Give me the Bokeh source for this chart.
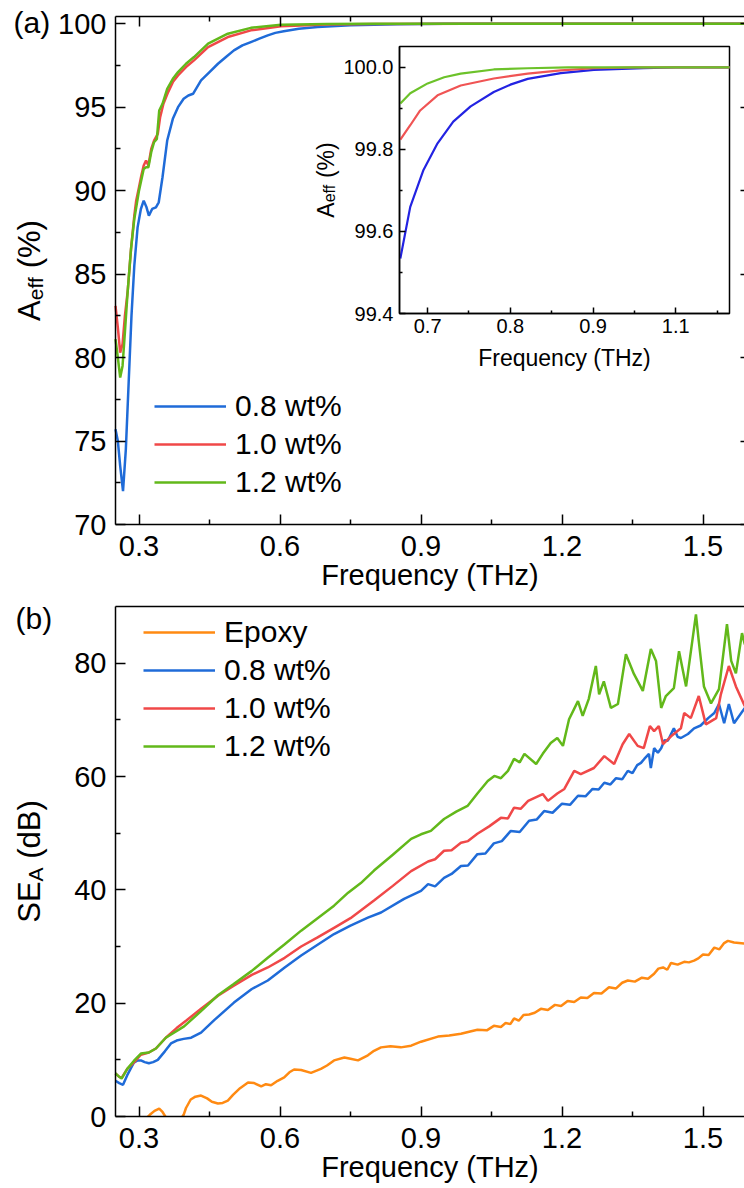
import math
from bokeh.plotting import figure
from bokeh.models import (Range1d, LinearAxis, FixedTicker, PrintfTickFormatter,
                          Legend, LegendItem, Label)
from bokeh.layouts import column
from bokeh.embed import file_html
from bokeh.resources import INLINE

FONT = "Liberation Sans"

# ---------------- data ----------------
freq_major = [0.3, 0.6, 0.9, 1.2, 1.5]
freq_minor = [0.45, 0.75, 1.05, 1.35]
a_y_major = [70, 75, 80, 85, 90, 95, 100]
a_y_minor = [72.5, 77.5, 82.5, 87.5, 92.5, 97.5]
b_y_major = [0, 20, 40, 60, 80]
b_y_minor = [10, 30, 50, 70]
in_x_major = [0.7, 0.8, 0.9, 1.0]
in_x_minor = [0.75, 0.85, 0.95, 1.05]
in_y_major = [99.4, 99.6, 99.8, 100.0]
in_y_minor = [99.5, 99.7, 99.9]

labels_wt = ["0.8 wt%", "1.0 wt%", "1.2 wt%"]

# panel (a): effective absorption A_eff (%)
a_f08 = [0.25, 0.255, 0.26, 0.266, 0.272, 0.278, 0.284, 0.29, 0.297, 0.304,
         0.31, 0.316, 0.321, 0.328, 0.336, 0.342, 0.35, 0.36, 0.372, 0.383,
         0.395, 0.405, 0.415, 0.432, 0.45, 0.468, 0.485, 0.502, 0.52, 0.538,
         0.556, 0.574, 0.59, 0.608, 0.64, 0.68, 0.75, 0.85, 0.95, 1.05,
         1.2, 1.4, 1.6]
a_v08 = [75.7, 75.0, 73.5, 72.0, 74.5, 78.5, 82.5, 85.5, 87.8, 88.9,
         89.4, 89.0, 88.5, 88.9, 89.0, 89.3, 90.8, 93.0, 94.3, 95.0,
         95.5, 95.7, 95.8, 96.6, 97.1, 97.6, 98.0, 98.4, 98.7, 98.9,
         99.1, 99.3, 99.45, 99.55, 99.7, 99.8, 99.9, 99.97, 99.99, 100.0,
         100.0, 100.0, 100.0]
a_f10 = [0.25, 0.255, 0.26, 0.265, 0.27, 0.276, 0.283, 0.29, 0.294, 0.3,
         0.305, 0.31, 0.315, 0.32, 0.326, 0.332, 0.34, 0.345, 0.352, 0.362,
         0.372, 0.383, 0.4, 0.417, 0.447, 0.489, 0.538, 0.602, 0.7, 0.8,
         1.0, 1.6]
a_v10 = [83.1, 81.8, 80.3, 80.8, 82.5, 84.0, 86.5, 88.5, 89.4, 90.2,
         90.9, 91.5, 91.8, 91.5, 92.5, 93.0, 93.4, 94.4, 95.2, 95.9,
         96.5, 96.9, 97.4, 97.8, 98.6, 99.2, 99.6, 99.85, 99.95, 99.98,
         100.0, 100.0]
a_f12 = [0.25, 0.255, 0.26, 0.265, 0.27, 0.276, 0.283, 0.29, 0.3, 0.31,
         0.315, 0.32, 0.326, 0.332, 0.338, 0.343, 0.35, 0.36, 0.372, 0.383,
         0.4, 0.417, 0.447, 0.489, 0.538, 0.602, 0.7, 0.8, 1.6]
a_v12 = [81.1, 80.0, 78.8, 79.5, 81.5, 84.0, 86.5, 88.3, 90.0, 91.3,
         91.4, 91.4, 92.3, 92.9, 93.1, 94.8, 95.2, 96.1, 96.7, 97.1,
         97.6, 98.0, 98.8, 99.4, 99.75, 99.93, 99.98, 100.0, 100.0]

# inset (zoom of panel a)
in_f08 = [0.667, 0.679, 0.695, 0.712, 0.731, 0.752, 0.78, 0.8, 0.821, 0.861,
          0.901, 0.961, 1.0, 1.065]
in_v08 = [99.534, 99.66, 99.75, 99.815, 99.868, 99.905, 99.94, 99.958, 99.972, 99.986,
          99.994, 99.998, 100.0, 100.0]
in_f10 = [0.667, 0.679, 0.691, 0.712, 0.74, 0.78, 0.821, 0.861, 0.901, 0.95, 1.065]
in_v10 = [99.824, 99.859, 99.895, 99.932, 99.956, 99.973, 99.985, 99.993, 99.998, 100.0, 100.0]
in_f12 = [0.667, 0.679, 0.7, 0.72, 0.74, 0.78, 0.821, 0.87, 1.065]
in_v12 = [99.912, 99.937, 99.961, 99.976, 99.985, 99.995, 99.998, 100.0, 100.0]

# panel (b): SE_A (dB)
b_f08 = [0.25, 0.258, 0.266, 0.275, 0.289, 0.297, 0.304, 0.312, 0.321, 0.33,
         0.34, 0.355, 0.368, 0.38, 0.395, 0.411, 0.432, 0.46, 0.502, 0.54,
         0.574, 0.61, 0.645, 0.68, 0.715, 0.75, 0.787, 0.815, 0.864, 0.9,
         0.915, 0.93, 0.949, 0.965, 0.985, 1.0, 1.02, 1.037, 1.055, 1.072,
         1.091, 1.11, 1.13, 1.146, 1.162, 1.18, 1.2, 1.217, 1.234, 1.25,
         1.265, 1.278, 1.29, 1.303, 1.315, 1.328, 1.34, 1.35, 1.36, 1.368,
         1.375, 1.385, 1.389, 1.396, 1.404, 1.411, 1.418, 1.425, 1.438, 1.446,
         1.453, 1.468, 1.481, 1.495, 1.511, 1.524, 1.534, 1.545, 1.555, 1.566,
         1.589]
b_v08 = [6.3, 5.9, 5.6, 7.3, 9.5, 9.9, 9.9, 9.6, 9.4, 9.6,
         10.0, 11.5, 12.9, 13.4, 13.7, 13.9, 14.8, 17.0, 20.1, 22.5,
         24.0, 26.3, 28.4, 30.3, 32.2, 33.7, 35.1, 36.0, 38.4, 39.8,
         41.0, 40.6, 42.1, 42.8, 44.2, 44.3, 46.3, 46.4, 48.2, 48.6,
         50.4, 50.2, 52.2, 52.4, 53.9, 53.6, 55.2, 55.0, 56.6, 56.5,
         57.8, 57.7, 58.9, 58.6, 59.7, 59.5, 61.0, 60.6, 62.0, 62.4,
         63.1, 64.0, 61.5, 65.0, 64.2, 65.0, 66.4, 66.3, 68.5, 67.0,
         66.8, 67.5, 68.5, 69.0, 70.3, 71.2, 72.8, 69.4, 72.8, 69.4,
         72.1]
b_f10 = [0.25, 0.258, 0.263, 0.275, 0.289, 0.304, 0.321, 0.336, 0.357, 0.38,
         0.4, 0.432, 0.468, 0.5, 0.54, 0.574, 0.61, 0.645, 0.68, 0.715,
         0.75, 0.8, 0.84, 0.879, 0.915, 0.93, 0.949, 0.965, 0.985, 1.0,
         1.02, 1.045, 1.07, 1.085, 1.098, 1.112, 1.128, 1.159, 1.17, 1.19,
         1.205, 1.226, 1.24, 1.268, 1.29, 1.311, 1.329, 1.343, 1.361, 1.374,
         1.387, 1.396, 1.406, 1.415, 1.432, 1.453, 1.46, 1.474, 1.491, 1.506,
         1.528, 1.538, 1.555, 1.57, 1.589]
b_v10 = [7.6, 7.0, 6.8, 8.4, 9.5, 10.9, 11.3, 12.0, 13.9, 15.6,
         16.9, 19.0, 21.3, 23.0, 25.0, 26.3, 28.0, 30.0, 31.6, 33.3,
         35.0, 38.1, 40.7, 43.3, 45.0, 45.4, 46.9, 47.0, 48.3, 48.6,
         49.9, 51.2, 52.7, 52.6, 54.5, 54.3, 55.7, 56.9, 55.7, 57.0,
         57.8, 61.0, 60.4, 61.5, 63.6, 62.2, 65.7, 67.5, 65.4, 65.0,
         68.9, 68.0, 68.9, 65.7, 67.1, 68.5, 71.2, 70.3, 74.2, 69.2,
         70.3, 74.5, 79.5, 75.9, 72.4]
b_f12 = [0.25, 0.258, 0.263, 0.275, 0.289, 0.304, 0.321, 0.336, 0.357, 0.396,
         0.432, 0.468, 0.5, 0.54, 0.574, 0.61, 0.645, 0.68, 0.715, 0.745,
         0.772, 0.8, 0.84, 0.879, 0.9, 0.921, 0.949, 0.975, 0.999, 1.02,
         1.042, 1.056, 1.07, 1.085, 1.098, 1.11, 1.12, 1.145, 1.159, 1.176,
         1.19, 1.202, 1.215, 1.234, 1.244, 1.257, 1.272, 1.279, 1.289, 1.304,
         1.319, 1.336, 1.353, 1.372, 1.389, 1.4, 1.411, 1.421, 1.438, 1.449,
         1.464, 1.485, 1.491, 1.502, 1.517, 1.534, 1.551, 1.56, 1.57, 1.583,
         1.589]
b_v12 = [7.6, 7.0, 6.7, 8.4, 9.8, 11.1, 11.3, 12.0, 13.9, 15.9,
         18.6, 21.4, 23.3, 25.7, 28.0, 30.4, 32.8, 35.0, 37.2, 39.5,
         41.2, 43.4, 46.2, 49.0, 49.8, 50.4, 52.5, 53.8, 54.8, 57.0,
         59.2, 60.1, 59.7, 61.0, 63.1, 62.5, 64.0, 62.2, 64.0, 65.9,
         66.8, 65.4, 70.1, 73.3, 70.7, 73.7, 79.5, 74.5, 76.8, 72.1,
         72.8, 81.6, 78.1, 75.1, 82.5, 80.4, 72.1, 74.2, 75.6, 82.1,
         75.9, 88.6, 83.9, 75.9, 72.9, 75.4, 86.9, 80.4, 78.2, 85.3,
         83.3]
b_fep = [0.25, 0.3, 0.323, 0.333, 0.343, 0.35, 0.36, 0.375, 0.39, 0.395,
         0.4, 0.41, 0.42, 0.432, 0.445, 0.455, 0.468, 0.478, 0.489, 0.5,
         0.515, 0.532, 0.545, 0.56, 0.57, 0.581, 0.595, 0.609, 0.62, 0.63,
         0.645, 0.666, 0.687, 0.7, 0.715, 0.737, 0.75, 0.766, 0.787, 0.8,
         0.815, 0.835, 0.857, 0.879, 0.9, 0.936, 0.96, 0.985, 1.02, 1.04,
         1.055, 1.07, 1.08, 1.09, 1.098, 1.108, 1.118, 1.13, 1.142, 1.155,
         1.17, 1.185, 1.198, 1.212, 1.226, 1.24, 1.254, 1.268, 1.284, 1.3,
         1.315, 1.328, 1.34, 1.355, 1.37, 1.383, 1.396, 1.405, 1.415, 1.424,
         1.432, 1.446, 1.46, 1.47, 1.481, 1.49, 1.5, 1.512, 1.524, 1.535,
         1.545, 1.553, 1.566, 1.589]
b_vep = [-3.0, -1.5, 0.3, 1.0, 1.4, 0.8, -0.5, -1.0, -0.3, 0.3,
         1.5, 3.0, 3.5, 3.7, 3.2, 2.6, 2.3, 2.4, 2.8, 3.8,
         5.0, 6.0, 5.9, 5.3, 5.7, 5.5, 6.3, 6.9, 7.8, 8.3,
         8.2, 7.7, 8.4, 9.0, 9.9, 10.4, 10.2, 9.9, 10.8, 11.6,
         12.2, 12.4, 12.2, 12.5, 13.2, 14.1, 14.3, 14.6, 15.3, 15.2,
         16.0, 15.8, 16.5, 16.3, 17.3, 16.9, 17.9, 18.0, 18.3, 19.0,
         18.8, 19.7, 19.5, 20.4, 20.2, 21.0, 20.9, 21.8, 21.7, 22.8,
         22.6, 23.6, 24.0, 23.8, 24.5, 24.3, 25.2, 26.1, 26.3, 25.9,
         27.1, 26.8, 27.3, 27.2, 27.5, 27.9, 28.6, 28.5, 29.8, 29.5,
         30.6, 31.0, 30.7, 30.5]

# ---------------- styles / layout ----------------
C_BLUE, C_RED, C_GREEN, C_ORANGE = "#1f6bd8", "#f04848", "#62b81a", "#ff8a12"
C_IBLUE, C_IRED, C_IGREEN = "#2323e2", "#f05454", "#6cc22a"

W, HA, HB = 744, 600, 588
AX_L = 115          # pixel position of the left axis
PX_PER_THZ = 470.0
F0 = 0.25           # frequency at the left axis
F_RIGHT = 1.6       # right axis (just beyond the page edge)
X0 = F0 - AX_L / PX_PER_THZ
X1 = F0 + (W - AX_L) / PX_PER_THZ

A_T, A_B = 16, 524      # axis box top / bottom in figure (a) pixels
AY0, AY1 = 70.0, 100.43
A_SC = (A_B - A_T) / (AY1 - AY0)
B_T, B_B = 6, 516       # axis box top / bottom in figure (b) pixels
BY0, BY1 = 0.0, 90.0
B_SC = (B_B - B_T) / (BY1 - BY0)

TICK_FS = "29px"
LABEL_FS = "29px"
TXT_SHIFT = 10          # compensation of the label baseline offset


def make_fig(h, y0, y1):
    p = figure(width=W, height=h, x_range=Range1d(X0, X1), y_range=Range1d(y0, y1),
               output_backend="svg", toolbar_location=None,
               x_axis_type=None, y_axis_type=None,
               min_border_left=0, min_border_right=0,
               min_border_top=0, min_border_bottom=0)
    p.outline_line_color = None
    p.background_fill_color = "white"
    p.border_fill_color = "white"
    return p


def style(ax, tin=10, minin=5, fs=TICK_FS, show=True, lw=1.5):
    ax.axis_line_color = "black"
    ax.axis_line_width = lw
    ax.major_tick_line_color = "black"
    ax.minor_tick_line_color = "black"
    ax.major_tick_line_width = lw
    ax.minor_tick_line_width = lw
    ax.major_tick_in = tin
    ax.major_tick_out = 0
    ax.minor_tick_in = minin
    ax.minor_tick_out = 0
    ax.major_label_text_font = FONT
    ax.major_label_text_font_size = fs
    ax.major_label_text_color = "black"
    ax.axis_label_text_font = FONT
    ax.axis_label_text_font_style = "normal"
    ax.axis_label_text_color = "black"
    if not show:
        ax.major_label_text_font_size = "0px"
        ax.major_label_text_color = None


CW = {'A': 0.667, 'e': 0.556, 'f': 0.278, ' ': 0.278, '(': 0.333, ')': 0.333,
      '%': 0.889, 'S': 0.667, 'E': 0.667, 'd': 0.556, 'B': 0.667}


def tw(s, size):
    return sum(CW.get(c, 0.556) for c in s) * size


def vlabel(p, fx, fy, parts, base_x, center_y):
    total = sum(tw(t, s) for t, s, d in parts)
    sy = center_y + total / 2.0
    for t, s, d in parts:
        if t.strip():
            p.add_layout(Label(x=fx(base_x + d - TXT_SHIFT), y=fy(sy), text=t, angle=math.pi / 2,
                               text_font=FONT, text_font_size=f"{s}px",
                               text_align="left", text_baseline="alphabetic",
                               text_color="black"))
        sy -= tw(t, s)


def fx(sx):
    return F0 + (sx - AX_L) / PX_PER_THZ


def fy_a(sy):
    return AY0 + (A_B - sy) / A_SC


def fy_b(sy):
    return BY0 + (B_B - sy) / B_SC


def legend(items, loc):
    lg = Legend(items=items, location=loc)
    lg.label_text_font = FONT
    lg.label_text_font_size = "30px"
    lg.label_text_color = "black"
    lg.glyph_width = 72
    lg.glyph_height = 38
    lg.label_height = 38
    lg.label_standoff = 9
    lg.spacing = 0
    lg.padding = 0
    lg.margin = 0
    lg.background_fill_alpha = 0
    lg.border_line_color = None
    return lg


def frame_axes(p, y0, y1, ymaj, ymin, top_ticks, right_ticks):
    ax = LinearAxis(ticker=FixedTicker(ticks=ymaj, minor_ticks=ymin),
                    fixed_location=F0, bounds=(y0, y1))
    style(ax)
    ax.major_label_standoff = 9
    p.add_layout(ax, "left")

    ax = LinearAxis(ticker=FixedTicker(ticks=freq_major, minor_ticks=freq_minor),
                    formatter=PrintfTickFormatter(format="%.1f"),
                    axis_label="Frequency (THz)", fixed_location=y0, bounds=(F0, F_RIGHT))
    style(ax)
    ax.major_label_standoff = 11
    ax.axis_label_standoff = 0
    ax.axis_label_text_font_size = LABEL_FS
    p.add_layout(ax, "below")

    ax = LinearAxis(ticker=FixedTicker(ticks=freq_major, minor_ticks=freq_minor),
                    fixed_location=y1, bounds=(F0, F_RIGHT))
    if top_ticks:
        style(ax, show=False)
    else:
        style(ax, tin=0, minin=0, show=False)
    p.add_layout(ax, "above")

    if right_ticks:
        ax = LinearAxis(ticker=FixedTicker(ticks=ymaj, minor_ticks=ymin),
                        fixed_location=F_RIGHT, bounds=(y0, y1))
        style(ax, show=False)
        p.add_layout(ax, "right")


# ================= panel (a) =================
pa = make_fig(HA, AY0 - (HA - A_B) / A_SC, AY1 + A_T / A_SC)
ra1 = pa.line(a_f08, a_v08, line_color=C_BLUE, line_width=2.5)
ra2 = pa.line(a_f10, a_v10, line_color=C_RED, line_width=2.5)
ra3 = pa.line(a_f12, a_v12, line_color=C_GREEN, line_width=2.5)

# ---- inset ----
IL, IR, IT, IB = 399, 729, 46, 313
IX0, IX1 = 0.666, 1.065
IY0, IY1 = 99.4, 100.051
sxu = (IR - IL) / (IX1 - IX0)
syu = (IB - IT) / (IY1 - IY0)
pa.extra_x_ranges = {"ix": Range1d(IX0 - IL / sxu, IX1 + (W - IR) / sxu)}
pa.extra_y_ranges = {"iy": Range1d(IY0 - (HA - IB) / syu, IY1 + IT / syu)}
pa.quad(left=[IX0], right=[IX1], bottom=[IY0], top=[IY1], x_range_name="ix", y_range_name="iy",
        fill_color="white", line_color="black", line_width=1.5)
pa.line(in_f08, in_v08, line_color=C_IBLUE, line_width=2.2, x_range_name="ix", y_range_name="iy")
pa.line(in_f10, in_v10, line_color=C_IRED, line_width=2.2, x_range_name="ix", y_range_name="iy")
pa.line(in_f12, in_v12, line_color=C_IGREEN, line_width=2.2, x_range_name="ix", y_range_name="iy")

iax = LinearAxis(x_range_name="ix", y_range_name="iy", fixed_location=IX0, bounds=(IY0, IY1),
                 ticker=FixedTicker(ticks=in_y_major, minor_ticks=in_y_minor),
                 formatter=PrintfTickFormatter(format="%.1f"))
style(iax, tin=6, minin=3, fs="20px")
iax.major_label_standoff = 6
pa.add_layout(iax, "left")

iax = LinearAxis(x_range_name="ix", y_range_name="iy", fixed_location=IY0, bounds=(IX0, IX1),
                 ticker=FixedTicker(ticks=in_x_major, minor_ticks=in_x_minor),
                 formatter=PrintfTickFormatter(format="%.1f"),
                 major_label_overrides={1.0: "1.1"},
                 axis_label="Frequency (THz)")
style(iax, tin=6, minin=3, fs="20px")
iax.major_label_standoff = 5
iax.axis_label_standoff = 9
iax.axis_label_text_font_size = "23px"
pa.add_layout(iax, "below")

vlabel(pa, fx, fy_a, [("A", 23, 0), ("eff", 16, 4), (" ", 23, 0), ("(%)", 23, 0)], 335, (IT + IB) / 2)

frame_axes(pa, AY0, AY1, a_y_major, a_y_minor, True, True)

pa.add_layout(legend([LegendItem(label=labels_wt[0], renderers=[ra1]),
                      LegendItem(label=labels_wt[1], renderers=[ra2]),
                      LegendItem(label=labels_wt[2], renderers=[ra3])],
                     (154, HA - (406 - 19) - 3 * 38)))

vlabel(pa, fx, fy_a, [("A", 31, 0), ("eff", 21, 6), (" ", 31, 0), ("(%)", 31, 0)], 39, (A_T + A_B) / 2)
pa.add_layout(Label(x=fx(13), y=fy_a(32 - TXT_SHIFT), text="(a)", text_font=FONT, text_font_size="30px",
                    text_align="left", text_baseline="alphabetic", text_color="black"))

# ================= panel (b) =================
pb = make_fig(HB, BY0 - (HB - B_B) / B_SC, BY1 + B_T / B_SC)
rb0 = pb.line(b_fep, b_vep, line_color=C_ORANGE, line_width=2.5)
rb1 = pb.line(b_f08, b_v08, line_color=C_BLUE, line_width=2.5)
rb2 = pb.line(b_f10, b_v10, line_color=C_RED, line_width=2.5)
rb3 = pb.line(b_f12, b_v12, line_color=C_GREEN, line_width=2.5)
# white mask below the zero line (the axis box clips the curves there)
pb.quad(left=[X0], right=[X1], bottom=[BY0 - (HB - B_B) / B_SC], top=[BY0],
        fill_color="white", line_color=None)

frame_axes(pb, BY0, BY1, b_y_major, b_y_minor, False, False)

pb.add_layout(legend([LegendItem(label="Epoxy", renderers=[rb0]),
                      LegendItem(label=labels_wt[0], renderers=[rb1]),
                      LegendItem(label=labels_wt[1], renderers=[rb2]),
                      LegendItem(label=labels_wt[2], renderers=[rb3])],
                     (143, HB - (632 - 600 - 19) - 4 * 38)))

vlabel(pb, fx, fy_b, [("SE", 31, 0), ("A", 21, 6), (" ", 31, 0), ("(dB)", 31, 0)], 39, (B_T + B_B) / 2)
pb.add_layout(Label(x=fx(15), y=fy_b(28 - TXT_SHIFT), text="(b)", text_font=FONT, text_font_size="30px",
                    text_align="left", text_baseline="alphabetic", text_color="black"))

layout = column(pa, pb, spacing=0)
open("out.html", "w").write(file_html(layout, INLINE))
